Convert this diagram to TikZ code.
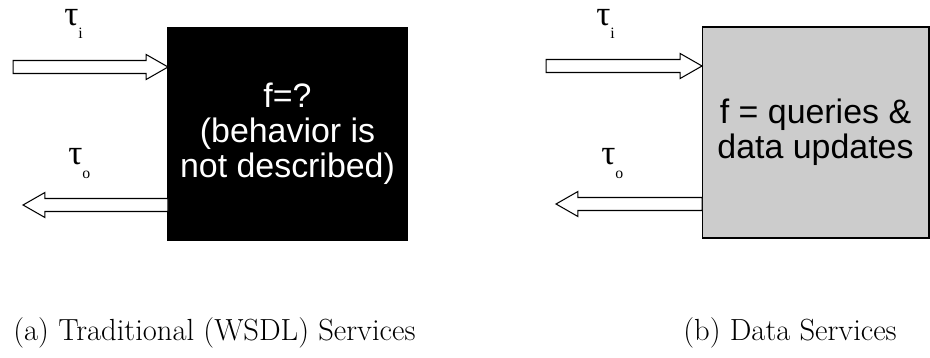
\documentclass[tikz,border=0pt]{standalone}
\usepackage{fontspec}
\usepackage{tikz}
\usetikzlibrary{shapes.arrows,positioning}
\newfontfamily\boxfont{Liberation Sans}
\newfontfamily\taufont{Liberation Serif}
\definecolor{boxgray}{RGB}{204,204,204}

\begin{document}
\begin{tikzpicture}
	[
		x=0.02cm, y=-0.02cm,
		B/.style = {rectangle, align=center, draw=black, line width=0.6pt, inner sep=0pt, outer sep=0pt,
			font=\boxfont\fontsize{19.3}{19.8}\selectfont},
		A/.style = {single arrow, draw=black, fill=white, line width=0.6pt, inner sep=0pt, inner ysep=1.2mm, outer sep=0pt,
			single arrow head extend=1.2mm, single arrow tip angle=59.5},
		L/.style = {inner sep=0pt, anchor=base west, font=\taufont\fontsize{20}{20}\selectfont},
		C/.style = {inner sep=0pt, anchor=base west, font=\fontsize{17.4}{20}\selectfont},
	]

	\useasboundingbox (0,0) rectangle (930,358);

	% boxes
	\node[B, fill=black, text=white, minimum width=4.78cm, minimum height=4.24cm] (f1) at (287.5,134.0) {f=?\\(behavior is\\not described)};
	\node[B, fill=boxgray, minimum width=4.54cm, minimum height=4.22cm] (f2) at (815.5,132.5) {f = queries \&\\data updates};

	% arrows in and out
	\node[A, minimum height=3.10cm, anchor=tip] (in1) at (f1.west |- 0,67) {};
	\node[A, minimum height=2.90cm, shape border rotate=180, anchor=tail] (out1) at (f1.west |- 0,205) {};
	\node[A, minimum height=3.12cm, anchor=tip] (in2) at (f2.west |- 0,66) {};
	\node[A, minimum height=2.92cm, shape border rotate=180, anchor=tail] (out2) at (f2.west |- 0,204) {};

	% tau labels
	\node[L] (ti1) at ( 64,26) {τ\raisebox{-7.4pt}{\fontsize{9}{9}\selectfont i}};
	\node[L] (to1) at ( 68,165) {τ\raisebox{-7.4pt}{\fontsize{9}{9}\selectfont o}};
	\node[L] (ti2) at (596,26) {τ\raisebox{-7.4pt}{\fontsize{9}{9}\selectfont i}};
	\node[L] (to2) at (601,165) {τ\raisebox{-7.4pt}{\fontsize{9}{9}\selectfont o}};

	% captions
	\node[C] (ca) at ( 13,340) {(a) Traditional (WSDL) Services};
	\node[C] (cb) at (683,340) {(b) Data Services};

\end{tikzpicture}
\end{document}
